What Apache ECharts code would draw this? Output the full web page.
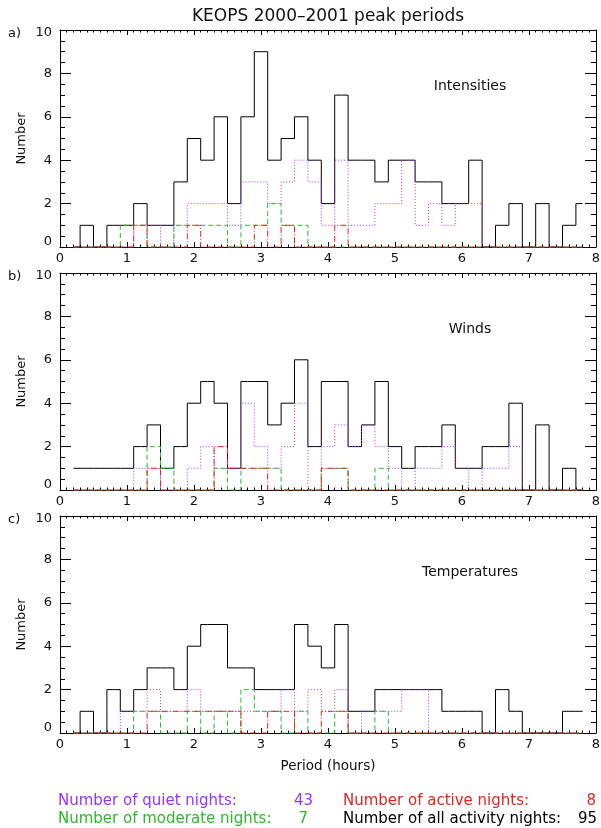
<!DOCTYPE html>
<html>
<head>
<meta charset="utf-8">
<title>KEOPS 2000–2001 peak periods</title>
<script src="https://cdn.jsdelivr.net/npm/echarts@6/dist/echarts.min.js"></script>
<style>
  html, body { margin: 0; padding: 0; background: #ffffff; }
  #chart { width: 601px; height: 828px; }
</style>
</head>
<body>
<div id="chart"></div>
<script>
// Bin centres (hours); each histogram bin is 0.2 h wide.
const periods = [0.2, 0.4, 0.6, 0.8, 1.0, 1.2, 1.4, 1.6, 1.8, 2.0,
                 2.2, 2.4, 2.6, 2.8, 3.0, 3.2, 3.4, 3.6, 3.8, 4.0,
                 4.2, 4.4, 4.6, 4.8, 5.0, 5.2, 5.4, 5.6, 5.8, 6.0,
                 6.2, 6.4, 6.6, 6.8, 7.0, 7.2, 7.4, 7.6, 7.8];

// a) Intensities
const intensAll      = [0,1,0,1,1,2,1,1,3,5, 4,6,2,6,9,4,5,6,4,2, 7,4,4,3,4,4,3,3,2,2, 4,0,1,2,0,2,0,1,2];
const intensQuiet    = [0,0,0,0,0,1,1,0,1,2, 2,2,1,3,3,2,3,4,3,1, 4,1,1,2,2,4,1,2,1,2, 2,0,0,0,0,0,0,0,0];
const intensModerate = [0,0,0,0,1,1,0,0,1,1, 1,1,0,1,1,2,1,1,0,0, 0,0,0,0,0,0,0,0,0,0, 0,0,0,0,0,0,0,0,0];
const intensActive   = [0,0,0,0,0,1,0,0,0,1, 0,0,0,0,1,0,1,0,0,0, 1,0,0,0,0,0,0,0,0,0, 0,0,0,0,0,0,0,0,0];

// b) Winds
const windsAll       = [1,1,1,1,1,2,3,1,2,4, 5,4,1,5,5,3,4,6,2,5, 5,2,3,5,2,1,2,2,3,1, 1,2,2,4,0,3,0,1,0];
const windsQuiet     = [0,0,0,0,0,1,1,0,0,1, 2,1,1,4,2,1,2,4,0,2, 3,2,3,2,1,0,1,1,2,1, 0,1,1,2,0,0,0,0,0];
const windsModerate  = [0,0,0,0,0,0,2,1,0,0, 0,1,0,1,1,1,0,0,0,1, 1,0,0,1,0,0,0,0,0,0, 0,0,0,0,0,0,0,0,0];
const windsActive    = [0,0,0,0,0,0,1,0,0,0, 0,2,1,1,1,0,0,0,0,1, 1,0,0,0,0,0,0,0,0,0, 0,0,0,0,0,0,0,0,0];

// c) Temperatures
const tempsAll       = [0,1,0,2,1,2,3,3,2,4, 5,5,3,3,2,2,2,5,4,3, 5,1,1,2,2,2,2,2,1,1, 1,0,2,1,0,0,0,1,1];
const tempsQuiet     = [0,0,0,0,1,1,2,1,1,2, 1,1,1,1,1,1,2,1,2,1, 2,0,1,1,1,2,2,0,0,0, 0,0,0,0,0,0,0,0,0];
const tempsModerate  = [0,0,0,0,0,1,1,0,0,1, 0,1,0,2,1,1,0,1,0,0, 1,0,0,1,0,0,0,0,0,0, 0,0,0,0,0,0,0,0,0];
const tempsActive    = [0,0,0,0,0,0,1,1,1,1, 1,1,1,0,0,1,1,0,0,1, 1,0,0,0,0,0,0,0,0,0, 0,0,0,0,0,0,0,0,0];

// Axis ticks
const xTickLabels = [0, 1, 2, 3, 4, 5, 6, 7, 8];
const yTickLabels = [0, 2, 4, 6, 8, 10];

// Panel captions and legend counts
const panelTags   = ['a)', 'b)', 'c)'];
const panelNames  = ['Intensities', 'Winds', 'Temperatures'];
const legendNames = ['Number of quiet nights:', 'Number of moderate nights:',
                     'Number of active nights:', 'Number of all activity nights:'];
const legendCounts = [43, 7, 8, 95];

const panelData = [
  [intensAll, intensQuiet, intensModerate, intensActive],
  [windsAll,  windsQuiet,  windsModerate,  windsActive],
  [tempsAll,  tempsQuiet,  tempsModerate,  tempsActive]
];

// ---- layout / styling ----
const FONT = 'DejaVu Sans';
const TXT = '#111111';
const QUIET = '#9633ff', MODERATE = '#2db82d', ACTIVE = '#e32424', ALL = '#000000';
const PLOT_LEFT = 60, PLOT_RIGHT = 5, PLOT_H = 217;
const panelTops = [30, 273, 516];

const xMin = xTickLabels[0], xMax = xTickLabels[xTickLabels.length - 1];
const yMin = yTickLabels[0], yMax = yTickLabels[yTickLabels.length - 1];

const grids = panelTops.map(t => ({
  left: PLOT_LEFT, right: PLOT_RIGHT, top: t, height: PLOT_H,
  containLabel: false, outerBoundsMode: 'none'
}));

const xAxes = [], yAxes = [];
panelTops.forEach((t, gi) => {
  ['bottom', 'top'].forEach(pos => {
    xAxes.push({
      type: 'value', gridIndex: gi, position: pos,
      min: xMin, max: xMax, interval: 1,
      axisLine: { show: true, onZero: false, lineStyle: { color: '#000', width: 1 } },
      axisTick: { show: true, inside: true, length: 5, lineStyle: { color: '#000', width: 1 } },
      minorTick: { show: true, splitNumber: 10, length: 2.5, lineStyle: { color: '#000', width: 1 } },
      splitLine: { show: false }, minorSplitLine: { show: false },
      axisLabel: {
        show: pos === 'bottom', margin: 5, color: TXT, fontFamily: FONT, fontSize: 13,
        showMinLabel: true, showMaxLabel: true, hideOverlap: false
      }
    });
  });
  ['left', 'right'].forEach(pos => {
    yAxes.push({
      type: 'value', gridIndex: gi, position: pos,
      min: yMin, max: yMax, interval: 2,
      axisLine: { show: true, onZero: false, lineStyle: { color: '#000', width: 1 } },
      axisTick: { show: true, inside: true, length: 11, lineStyle: { color: '#000', width: 1 } },
      minorTick: { show: true, splitNumber: 4, length: 5, lineStyle: { color: '#000', width: 1 } },
      splitLine: { show: false }, minorSplitLine: { show: false },
      axisLabel: {
        show: pos === 'left', margin: 8, color: TXT, fontFamily: FONT, fontSize: 13,
        showMinLabel: true, showMaxLabel: true, hideOverlap: false,
        formatter: v => v === yMin ? '{lo|' + v + '}' : (v === yMax ? '{hi|' + v + '}' : '{n|' + v + '}'),
        rich: {
          lo: { padding: [0, 0, 10, 0], fontFamily: FONT, fontSize: 13, color: TXT },
          hi: { padding: [6, 0, 0, 0], fontFamily: FONT, fontSize: 13, color: TXT },
          n:  { fontFamily: FONT, fontSize: 13, color: TXT }
        }
      }
    });
  });
});

const styles = [
  { color: ALL,      type: 'solid' },
  { color: QUIET,    type: [1, 2] },
  { color: MODERATE, type: [5, 3] },
  { color: ACTIVE,   type: [6, 2, 1, 2] }
];

const series = [];
panelData.forEach((sets, gi) => {
  sets.forEach((vals, si) => {
    series.push({
      type: 'line', xAxisIndex: gi * 2, yAxisIndex: gi * 2,
      step: 'middle', symbol: 'none', showSymbol: false, clip: false,
      silent: true, animation: false, z: 2 + si,
      data: periods.map((p, i) => [p, vals[i]]),
      lineStyle: { color: styles[si].color, width: 1, type: styles[si].type }
    });
  });
});

function txt(x, y, text, opts) {
  return Object.assign({
    type: 'text', x: x, y: y, silent: true,
    style: Object.assign({
      text: text, fontFamily: FONT, fontSize: 14, fill: TXT,
      align: 'left', verticalAlign: 'middle'
    }, opts || {})
  });
}

const plotCenterX = PLOT_LEFT + (601 - PLOT_LEFT - PLOT_RIGHT) / 2;
const graphics = [];
graphics.push(txt(plotCenterX, 17, 'KEOPS 2000–2001 peak periods', { fontSize: 17, align: 'center' }));
panelTops.forEach((t, gi) => {
  graphics.push(txt(8, t + 4, panelTags[gi], { fontSize: 13 }));
  graphics.push(txt(470, t + 56, panelNames[gi], { fontSize: 14, align: 'center' }));
  const g = txt(22, t + PLOT_H / 2, 'Number', { fontSize: 13, align: 'center' });
  g.rotation = Math.PI / 2;
  graphics.push(g);
});
graphics.push(txt(plotCenterX, 766, 'Period (hours)', { fontSize: 13.5, align: 'center' }));

const legendColors = [QUIET, MODERATE, ACTIVE, ALL];
const legendPos = [[58, 801, 313], [58, 819, 308], [343, 801, 596], [343, 819, 597]];
legendNames.forEach((name, i) => {
  const [lx, ly, rx] = legendPos[i];
  graphics.push(txt(lx, ly, name, { fontSize: 15, fill: legendColors[i] }));
  graphics.push(txt(rx, ly, String(legendCounts[i]), { fontSize: 15, fill: legendColors[i], align: 'right' }));
});

const chart = echarts.init(document.getElementById('chart'), null, { renderer: 'canvas' });
chart.setOption({
  animation: false,
  backgroundColor: '#ffffff',
  grid: grids,
  xAxis: xAxes,
  yAxis: yAxes,
  series: series,
  graphic: graphics
});
</script>
</body>
</html>
